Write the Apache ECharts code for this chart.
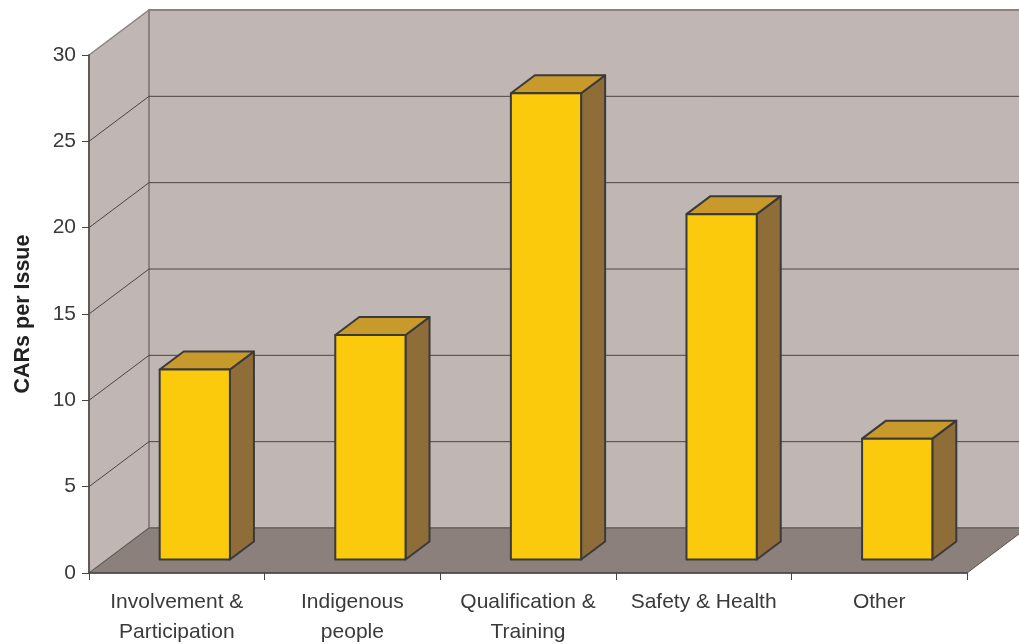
<!DOCTYPE html>
<html>
<head>
<meta charset="utf-8">
<script src="https://cdn.jsdelivr.net/npm/echarts@6/dist/echarts.min.js"></script>
<style>html,body{margin:0;padding:0;background:#fff}#c{width:1019px;height:644px}</style>
</head>
<body>
<div id="c"></div>
<script>
var categories = ['Involvement &\nParticipation', 'Indigenous\npeople', 'Qualification &\nTraining', 'Safety & Health', 'Other'];
var values = [11, 13, 27, 20, 7];
var yTicks = [0, 5, 10, 15, 20, 25, 30];
var yTitle = 'CARs per Issue';

var DX = 60, DY = -45;          // depth projection
var D1 = 0.3, D2 = 0.7;         // bar depth start/end
var BW = 0.4;                   // bar width fraction of band

var chart = echarts.init(document.getElementById('c'), null, {renderer: 'canvas'});

function wallsRender(params, api) {
  var cs = params.coordSys;
  var x0 = cs.x, x1 = cs.x + cs.width;
  var yb = api.coord([0, yTicks[0]])[1];
  var yt = api.coord([0, yTicks[yTicks.length - 1]])[1];
  var ch = [];
  ch.push({type: 'polygon', shape: {points: [[x0, yb], [x0 + DX, yb + DY], [x0 + DX, yt + DY], [x0, yt]]},
    style: {fill: '#c0b7b4', stroke: '#8c817e', lineWidth: 1.5}});
  ch.push({type: 'polygon', shape: {points: [[x0 + DX, yb + DY], [x1 + DX, yb + DY], [x1 + DX, yt + DY], [x0 + DX, yt + DY]]},
    style: {fill: '#c0b7b4', stroke: '#8c817e', lineWidth: 2}});
  ch.push({type: 'polygon', shape: {points: [[x0, yb], [x1, yb], [x1 + DX, yb + DY], [x0 + DX, yb + DY]]},
    style: {fill: '#8c807c', stroke: '#5a5452', lineWidth: 1}});
  for (var i = 1; i < yTicks.length - 1; i++) {
    var y = api.coord([0, yTicks[i]])[1];
    ch.push({type: 'polyline', shape: {points: [[x0, y], [x0 + DX, y + DY], [x1 + DX, y + DY]]},
      style: {fill: null, stroke: '#4a4545', lineWidth: 1}});
  }
  return {type: 'group', children: ch};
}

function barRender(params, api) {
  var idx = api.value(0), v = api.value(1);
  var p0 = api.coord([idx, 0]), p1 = api.coord([idx, v]);
  var bw = api.size([1, 0])[0] * BW;
  var lx = p0[0] - bw / 2, rx = p0[0] + bw / 2;
  var fx = D1 * DX, fy = D1 * DY, bx = D2 * DX, by = D2 * DY;
  var yb = p0[1], yt = p1[1];
  var st = {stroke: '#3a3a3a', lineWidth: 2, lineJoin: 'round'};
  return {type: 'group', children: [
    {type: 'polygon', shape: {points: [[rx + fx, yb + fy], [rx + bx, yb + by], [rx + bx, yt + by], [rx + fx, yt + fy]]},
      style: Object.assign({fill: '#8f6d38'}, st)},
    {type: 'polygon', shape: {points: [[lx + fx, yt + fy], [rx + fx, yt + fy], [rx + bx, yt + by], [lx + bx, yt + by]]},
      style: Object.assign({fill: '#c89a2c'}, st)},
    {type: 'polygon', shape: {points: [[lx + fx, yb + fy], [rx + fx, yb + fy], [rx + fx, yt + fy], [lx + fx, yt + fy]]},
      style: Object.assign({fill: '#fcca0c'}, st)}
  ]};
}

var FONT = 'Liberation Sans, Arial, sans-serif';
var option = {
  animation: false,
  backgroundColor: '#ffffff',
  textStyle: {fontFamily: FONT},
  grid: {left: 89, right: 52, top: 55, bottom: 71, containLabel: false, outerBoundsMode: 'none'},
  xAxis: {
    type: 'category', data: categories, boundaryGap: true,
    axisLine: {show: true, lineStyle: {color: '#4a4545', width: 1.5}},
    axisTick: {show: true, length: 7, alignWithLabel: false, lineStyle: {color: '#4a4545'}},
    axisLabel: {color: '#3a3a3a', fontSize: 21, margin: 14, lineHeight: 30, interval: 0, fontFamily: FONT},
    splitLine: {show: false}
  },
  yAxis: {
    type: 'value', min: 0, max: 30, interval: 5,
    name: yTitle, nameLocation: 'middle', nameGap: 55, nameRotate: 90,
    nameTextStyle: {color: '#222', fontSize: 21.5, fontWeight: 'bold', fontFamily: FONT},
    axisLine: {show: true, lineStyle: {color: '#4a4545', width: 1.5}},
    axisTick: {show: true, length: 7, lineStyle: {color: '#4a4545'}},
    axisLabel: {color: '#3a3a3a', fontSize: 21, margin: 13, fontFamily: FONT},
    splitLine: {show: false}
  },
  series: [
    {type: 'custom', z: -1, renderItem: wallsRender, data: [[0, 0]], silent: true, clip: false},
    {type: 'custom', z: 3, renderItem: barRender, data: values.map(function (v, i) { return [i, v]; }), clip: false}
  ]
};
chart.setOption(option);
</script>
</body>
</html>
